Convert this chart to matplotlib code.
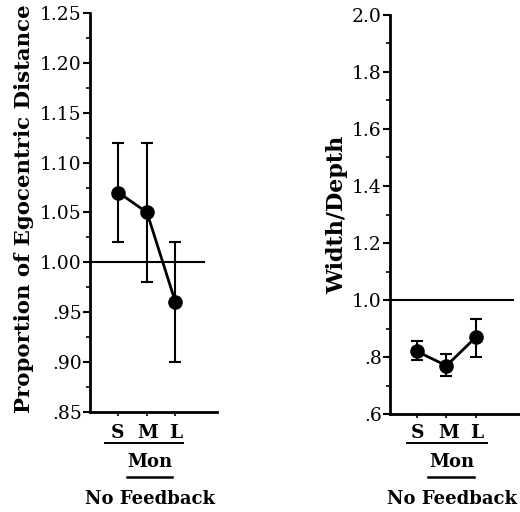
import matplotlib
matplotlib.use("Agg")
import matplotlib.pyplot as plt
from matplotlib.lines import Line2D

# data
sizes = ["S", "M", "L"]
xpos = [1, 2, 3]

egoc_mean = [1.07, 1.05, 0.96]
egoc_low = [1.02, 0.98, 0.90]
egoc_high = [1.12, 1.12, 1.02]

wd_mean = [0.82, 0.77, 0.87]
wd_low = [0.79, 0.735, 0.80]
wd_high = [0.855, 0.81, 0.935]

plt.rcParams['font.family'] = ['DejaVu Serif']

fig = plt.figure(figsize=(5.2, 5.12), dpi=100)

def panel(ax, mean, low, high, ref_end, ylabel, label_size, yticks, yticklabels, minor):
    yerr = [[m - l for m, l in zip(mean, low)], [h - m for m, h in zip(mean, high)]]
    x0, x1 = ax.get_xlim()
    ax.axhline(1.0, xmin=0, xmax=(ref_end - x0) / (x1 - x0), color='black', lw=1.5, zorder=1)
    ax.errorbar(xpos, mean, yerr=yerr, color='black', lw=2, marker='o', ms=9.5,
                capsize=4.3, elinewidth=1.5, capthick=1.5, zorder=3)
    ax.set_yticks(yticks)
    ax.set_yticklabels(yticklabels, fontsize=13.5)
    ax.set_yticks(minor, minor=True)
    ax.set_xticks(xpos)
    ax.set_xticklabels([])
    ax.tick_params(axis='y', which='major', direction='out', length=5, width=1.5, pad=1)
    ax.tick_params(axis='y', which='minor', direction='out', length=3, width=1.2)
    ax.tick_params(axis='x', direction='out', length=3, width=1.2)
    for s in ['top', 'right']:
        ax.spines[s].set_visible(False)
    for s in ['left', 'bottom']:
        ax.spines[s].set_linewidth(2)
    ax.set_ylabel(ylabel, fontsize=label_size, fontweight='bold', labelpad=3)

# left panel
ax1 = fig.add_axes([0.173, 0.195, 0.244, 0.78])
ax1.set_xlim(0, 4.45)
ax1.set_ylim(0.85, 1.25)
panel(ax1, egoc_mean, egoc_low, egoc_high, 4.0, "Proportion of Egocentric Distance", 15.3,
      [0.85, 0.90, 0.95, 1.00, 1.05, 1.10, 1.15, 1.20, 1.25],
      [".85", ".90", ".95", "1.00", "1.05", "1.10", "1.15", "1.20", "1.25"],
      [0.875, 0.925, 0.975, 1.025, 1.075, 1.125, 1.175, 1.225])
ax1.yaxis.set_label_coords(-0.44, 0.51)

# right panel
ax2 = fig.add_axes([0.75, 0.191, 0.25, 0.78])
ax2.set_xlim(0.08, 4.5)
ax2.set_ylim(0.6, 2.0)
panel(ax2, wd_mean, wd_low, wd_high, 4.25, "Width/Depth", 16,
      [0.6, 0.8, 1.0, 1.2, 1.4, 1.6, 1.8, 2.0],
      [".6", ".8", "1.0", "1.2", "1.4", "1.6", "1.8", "2.0"],
      [0.7, 0.9, 1.1, 1.3, 1.5, 1.7, 1.9])

# category labels under each panel, in figure pixel coordinates
W, H = 520, 512
def below(cx, xs, ul1, ul2):
    for x, s in zip(xs, sizes):
        fig.text(x / W, 1 - 433 / H, s, ha='center', va='center', fontsize=13.5, fontweight='bold')
    fig.add_artist(Line2D([ul1[0] / W, ul1[1] / W], [1 - 443 / H] * 2, color='black', lw=1.4))
    fig.text(cx / W, 1 - 462 / H, "Mon", ha='center', va='center', fontsize=13, fontweight='bold')
    fig.add_artist(Line2D([ul2[0] / W, ul2[1] / W], [1 - 477 / H] * 2, color='black', lw=1.8))
    fig.text(cx / W, 1 - 499 / H, "No Feedback", ha='center', va='center', fontsize=13, fontweight='bold')

below(150, [118, 148, 176], (105, 183), (127, 172))
below(452, [418, 449, 477], (407, 487), (428, 474))

fig.savefig("out.png", dpi=100)
